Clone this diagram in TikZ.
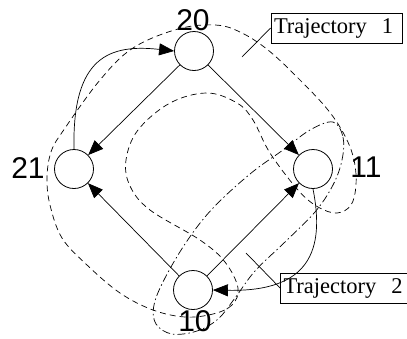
\documentclass[tikz,border=0pt]{standalone}
\usepackage{fontspec}
\setmainfont{Liberation Serif}
\newfontfamily\digitfont{Liberation Sans}
\usetikzlibrary{arrows.meta}
\begin{document}
\begin{tikzpicture}[x=1pt,y=-1pt,
  state/.style={circle,draw,line width=0.8pt,minimum size=39pt,inner sep=0pt},
  lbl/.style={inner sep=0pt,font=\digitfont\fontsize{30}{32}\selectfont},
  trans/.style={line width=0.7pt,-{Triangle[length=15pt,width=12pt]}},
  trajA/.style={line width=0.7pt,dash pattern=on 6pt off 4pt},
  trajB/.style={line width=0.7pt,dash pattern=on 8pt off 3pt on 1.5pt off 3pt},
  tbox/.style={draw,line width=0.8pt,minimum height=30pt,inner xsep=3pt,inner ysep=0pt,text width=125pt,align=left,font=\fontsize{22.5}{24}\selectfont},
  leader/.style={line width=0.7pt}]
\useasboundingbox (0,0) rectangle (407,338);

% states
\node[state] (n20) at (194,51) {};
\node[state] (n21) at (74,169) {};
\node[state] (n11) at (313,169) {};
\node[state] (n10) at (193,290) {};

% labels
\node[lbl] (l20) at (193,20) {20};
\node[lbl] (l21) at (28,168) {21};
\node[lbl] (l11) at (366,167) {11};
\node[lbl] (l10) at (195,321.5) {10};

% transitions
\draw[trans] (n20) -- (n21);
\draw[trans] (n20) -- (n11);
\draw[trans] (n10) -- (n21);
\draw[trans] (n10) -- (n11);
\draw[trans] (n21.north) .. controls (72,56) and (110,44) .. (n20.west);
\draw[trans] (n11.south) .. controls (325,250) and (310,292) .. (n10.east);

% trajectory 1 (dashed)
\draw[trajA] plot[smooth cycle,tension=0.6] coordinates {
 (47,178) (51,152) (63,131) (100,80) (133,48) (178,29) (215,25) (240,32)
 (268,50) (300,80) (328,110) (345,136) (354,160) (356,185) (351,205) (337,213)
 (318,207) (298,190) (270,153) (253,120) (237,103) (207,93) (170,103) (138,130)
 (126,160) (130,186) (150,210) (200,240) (225,262) (238,288) (232,305) (213,314)
 (185,317) (153,310) (120,293) (87,265) (62,238) (50,205)};

% trajectory 2 (dash-dot)
\draw[trajB] plot[smooth cycle,tension=0.6] coordinates {
 (333,122) (343,137) (342,160) (333,185) (315,212) (285,242) (255,271) (235,298)
 (218,319) (197,331) (172,334) (156,324) (154,305) (165,278) (187,241) (213,208)
 (250,174) (283,150) (310,130)};

% legend boxes
\node[tbox] (b1) at (336.5,28) {Trajectory~~1};
\node[tbox,text width=121pt] (b2) at (344,288) {Trajectory~~2};
\coordinate (c1) at (242,57);
\coordinate (c2) at (246,253);
\draw[leader] (b1.west) -- (c1);
\draw[leader] (b2.west) -- (c2);
\end{tikzpicture}
\end{document}
